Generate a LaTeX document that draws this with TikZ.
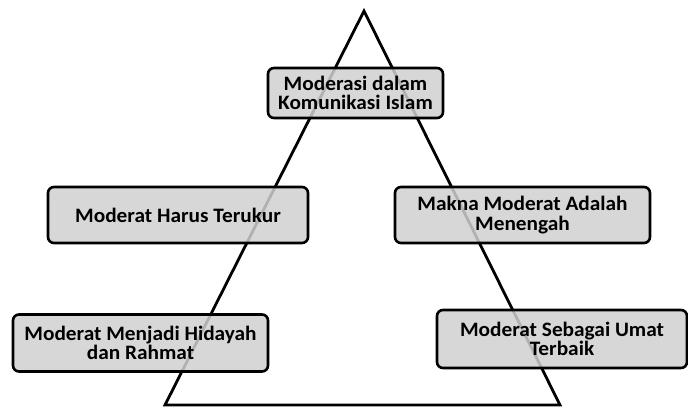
\documentclass[tikz,border=0pt]{standalone}
\usepackage{fontspec}
\setmainfont{Carlito}[FakeStretch=1.04]
\usepackage{tikz}
\usetikzlibrary{positioning}

\begin{document}
\begin{tikzpicture}[x=1pt,y=-1pt,
    topic/.style={draw,line width=2.6pt,rounded corners=6pt,fill=gray!37,fill opacity=0.85,
      text opacity=1,align=center,font=\fontsize{20.5}{19.5}\selectfont\bfseries,inner sep=0pt}]
    \useasboundingbox (0,0) rectangle (688,407);
    % pyramid
    \coordinate (apex) at (364,11);
    \coordinate (bl)   at (165,405);
    \coordinate (br)   at (560,405);
    \draw[line width=2.8pt,line join=miter] (bl) -- (apex) -- (br) -- cycle;
    % boxes
    \node[topic,minimum width=175pt,minimum height=50pt] (top)   at (355.5,93)  {Moderasi dalam\\Komunikasi Islam};
    \node[topic,minimum width=260pt,minimum height=56pt] (left1) at (178,215)   {Moderat Harus Terukur};
    \node[topic,minimum width=255pt,minimum height=56pt] (right1) at (522.5,215) {Makna Moderat Adalah\\Menengah};
    \node[topic,minimum width=255pt,minimum height=57pt] (left2) at (140.5,343) {Moderat Menjadi Hidayah\\dan Rahmat};
    \node[topic,minimum width=250pt,minimum height=58pt] (right2) at (562,339) {Moderat Sebagai Umat\\Terbaik};
\end{tikzpicture}
\end{document}
